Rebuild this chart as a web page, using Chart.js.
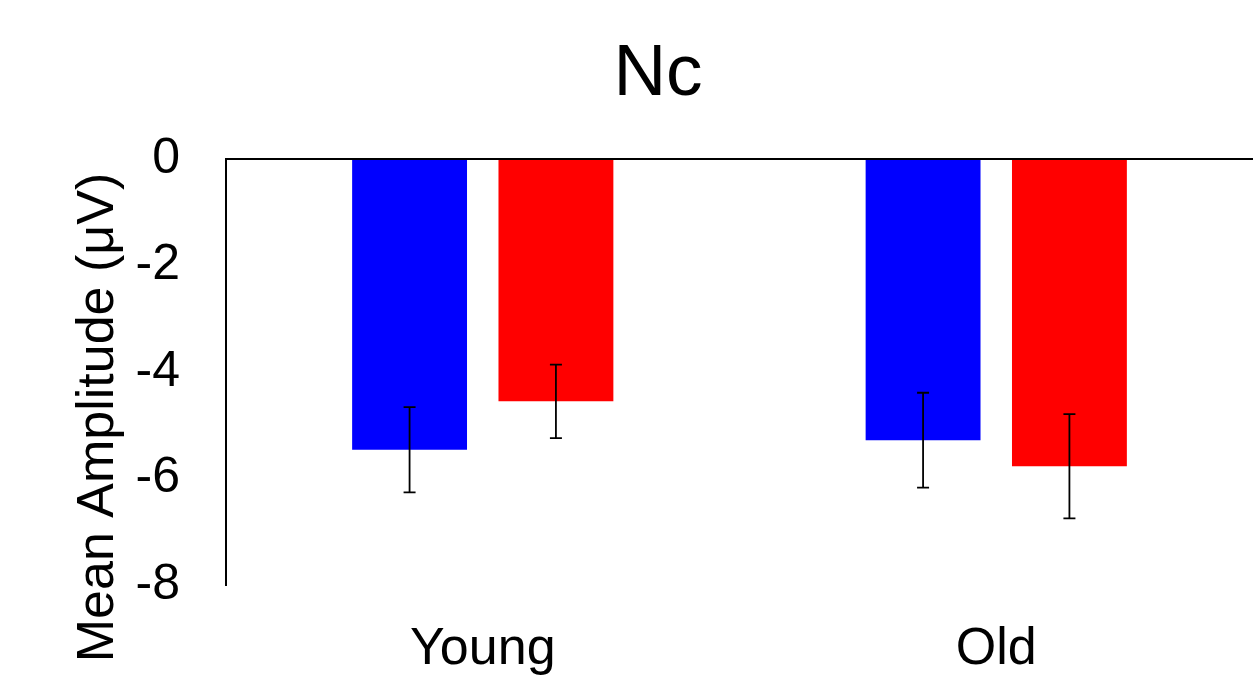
<!DOCTYPE html>
<html>
<head>
<meta charset="utf-8">
<script src="https://cdn.jsdelivr.net/npm/chart.js@4"></script>
<style>
  html, body { margin: 0; padding: 0; background: #fff; }
  canvas { display: block; }
</style>
</head>
<body>
<canvas id="ncChart" width="1253" height="675"></canvas>
<script>
// Data
const groups = ['Young', 'Old'];
const blueMeans = [-5.46, -5.28];
const blueErrors = [0.80, 0.89];
const redMeans = [-4.55, -5.77];
const redErrors = [0.69, 0.98];
const yTicks = [0, -2, -4, -6, -8];

const FONT = '"Liberation Sans", Arial, sans-serif';

// Error bars drawn from the bar elements and the y scale
const errorBarPlugin = {
    id: 'errorBars',
    afterDatasetsDraw(chart) {
        const ctx = chart.ctx;
        const yScale = chart.scales.y;
        ctx.save();
        ctx.strokeStyle = '#000';
        ctx.lineWidth = 1.8;
        chart.data.datasets.forEach((ds, di) => {
            const meta = chart.getDatasetMeta(di);
            meta.data.forEach((bar, i) => {
                const m = ds.data[i];
                const e = ds.errors[i];
                const yTop = yScale.getPixelForValue(m + e);
                const yBot = yScale.getPixelForValue(m - e);
                const cap = 6;
                ctx.beginPath();
                ctx.moveTo(bar.x, yTop);
                ctx.lineTo(bar.x, yBot);
                ctx.moveTo(bar.x - cap, yTop);
                ctx.lineTo(bar.x + cap, yTop);
                ctx.moveTo(bar.x - cap, yBot);
                ctx.lineTo(bar.x + cap, yBot);
                ctx.stroke();
            });
        });
        ctx.restore();
    }
};

// Title and y-axis title, placed like in the original figure
const titlesPlugin = {
    id: 'titles',
    afterDraw(chart) {
        const ctx = chart.ctx;
        ctx.save();
        ctx.fillStyle = '#000';
        ctx.textAlign = 'center';
        ctx.textBaseline = 'alphabetic';
        ctx.font = '73px ' + FONT;
        ctx.fillText('Nc', 658, 95);

        ctx.translate(113, 417.5);
        ctx.rotate(-Math.PI / 2);
        ctx.font = '52px ' + FONT;
        ctx.fillText('Mean Amplitude (μV)', 0, 0);
        ctx.restore();
    }
};

const ctx = document.getElementById('ncChart').getContext('2d');
new Chart(ctx, {
    type: 'bar',
    data: {
        labels: groups,
        datasets: [
            {
                label: 'Condition 1',
                data: blueMeans,
                errors: blueErrors,
                backgroundColor: '#0000ff'
            },
            {
                label: 'Condition 2',
                data: redMeans,
                errors: redErrors,
                backgroundColor: '#ff0000'
            }
        ]
    },
    options: {
        responsive: false,
        animation: false,
        categoryPercentage: 0.57,
        barPercentage: 0.785,
        layout: { padding: { left: 0, right: 0, top: 159, bottom: 0 } },
        plugins: {
            legend: { display: false },
            tooltip: { enabled: false },
            title: { display: false }
        },
        scales: {
            x: {
                grid: { display: false, drawTicks: false },
                border: { display: false },
                ticks: {
                    color: '#000',
                    font: { family: FONT, size: 52 },
                    padding: 33
                },
                afterFit(scale) { scale.height = 90; }
            },
            y: {
                min: -8,
                max: 0,
                afterBuildTicks(scale) {
                    scale.ticks = yTicks.map(v => ({ value: v }));
                },
                grid: {
                    drawTicks: false,
                    lineWidth: 2,
                    color: c => (c.tick && c.tick.value === 0) ? '#000' : 'rgba(0,0,0,0)'
                },
                border: { display: true, color: '#000', width: 2 },
                ticks: {
                    color: '#000',
                    font: { family: FONT, size: 50 },
                    padding: 46,
                    callback: v => String(v)
                },
                afterFit(scale) { scale.width = 226; }
            }
        }
    },
    plugins: [errorBarPlugin, titlesPlugin]
});
</script>
</body>
</html>
